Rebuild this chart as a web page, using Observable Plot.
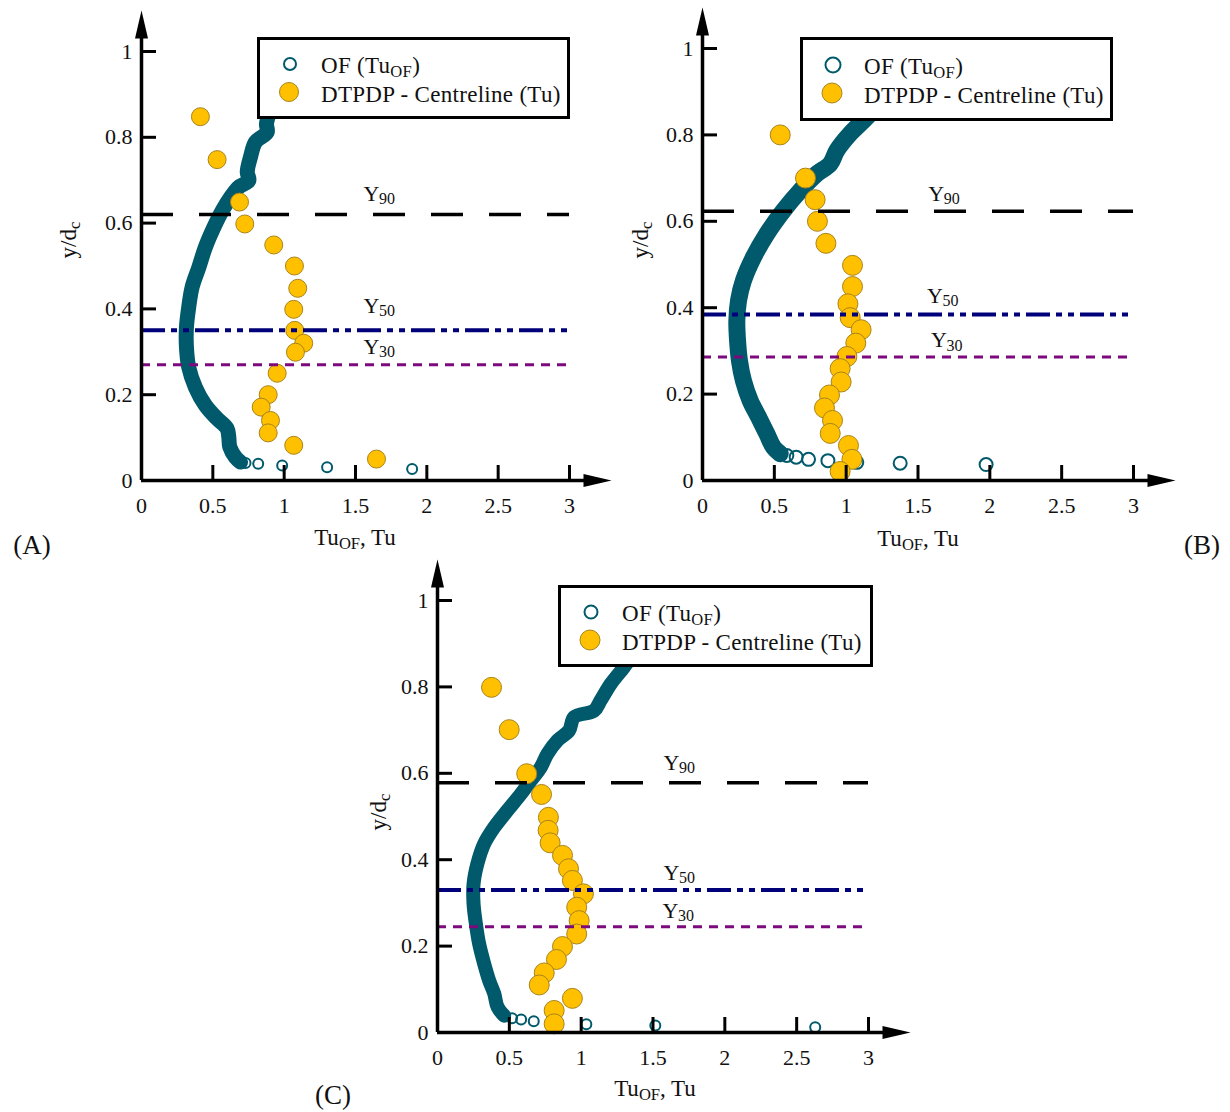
<!DOCTYPE html>
<html><head><meta charset="utf-8">
<script src="https://cdn.jsdelivr.net/npm/d3@7"></script>
<script src="https://cdn.jsdelivr.net/npm/@observablehq/plot@0.6"></script>
<style>
body{margin:0;background:#fff;}
#fig{position:relative;width:1230px;height:1112px;overflow:hidden;font-family:"Liberation Serif","Times New Roman",serif;color:#111;background:#fff;}
#fig svg{position:absolute;background:transparent;max-width:none;}
.legend{position:absolute;border:3px solid #000;background:#fff;box-sizing:border-box;font-size:23px;}
.lsym{position:absolute;}
.ltxt{position:absolute;white-space:nowrap;transform:translateY(-50%);line-height:1;letter-spacing:0.3px;}
.lab{position:absolute;white-space:nowrap;font-size:23px;line-height:1;transform:translate(-50%,-50%);}
.rot{transform:translate(-50%,-50%) rotate(-90deg);}
.letter{position:absolute;font-size:27px;line-height:1;transform:translate(-50%,-50%);}
sub{font-size:0.72em;vertical-align:-0.28em;line-height:0;}
</style></head><body><div id="fig"></div>
<script>
// ---------- axis ticks ----------
const xTicks = [0, 0.5, 1, 1.5, 2, 2.5, 3];
const yTicks = [0, 0.2, 0.4, 0.6, 0.8, 1];

// ---------- reference levels (Y90, Y50, Y30) ----------
const levelNames = ["90", "50", "30"];
const levelsA = [0.62, 0.35, 0.27];
const levelsB = [0.623, 0.384, 0.286];
const levelsC = [0.578, 0.330, 0.245];

// ---------- OF (Tu_OF) : dense band (bottom -> top) and isolated near-bed points ----------
const ofBandA = [[0.694,0.043],[0.659,0.054],[0.619,0.078],[0.612,0.101],[0.600,0.121],[0.530,0.144],[0.448,0.175],[0.378,0.217],[0.331,0.264],[0.315,0.311],[0.315,0.357],[0.331,0.404],[0.355,0.451],[0.402,0.497],[0.448,0.544],[0.507,0.590],[0.566,0.629],[0.624,0.660],[0.682,0.684],[0.752,0.699],[0.741,0.719],[0.764,0.754],[0.799,0.789],[0.881,0.812],[0.876,0.831],[0.90,0.86]];
const ofTailA = [[0.729,0.041],[0.818,0.039],[0.986,0.035],[1.301,0.031],[1.897,0.027]];

const ofBandB = [[0.541,0.062],[0.494,0.077],[0.448,0.108],[0.390,0.147],[0.332,0.185],[0.285,0.231],[0.257,0.278],[0.244,0.324],[0.239,0.370],[0.251,0.417],[0.285,0.463],[0.355,0.517],[0.448,0.571],[0.564,0.625],[0.680,0.671],[0.796,0.710],[0.889,0.733],[0.935,0.764],[1.028,0.803],[1.120,0.833],[1.17,0.85]];
const ofTailB = [[0.587,0.058],[0.652,0.054],[0.738,0.049],[0.873,0.046],[1.074,0.042],[1.376,0.040],[1.974,0.037]];

const ofBandC = [[0.464,0.039],[0.418,0.059],[0.395,0.090],[0.360,0.120],[0.325,0.159],[0.290,0.205],[0.267,0.252],[0.251,0.298],[0.251,0.344],[0.278,0.391],[0.325,0.437],[0.395,0.475],[0.487,0.514],[0.580,0.552],[0.649,0.583],[0.719,0.614],[0.765,0.645],[0.835,0.676],[0.916,0.699],[0.951,0.730],[1.090,0.745],[1.136,0.769],[1.206,0.807],[1.299,0.846],[1.35,0.87]];
const ofTailC = [[0.519,0.033],[0.582,0.030],[0.670,0.026],[1.036,0.019],[1.516,0.016],[2.629,0.012]];

// ---------- DTPDP - Centreline (Tu) ----------
const dtpdpA = [[0.413,0.848],[0.530,0.748],[0.687,0.649],[0.724,0.598],[0.927,0.549],[1.072,0.500],[1.095,0.448],[1.067,0.399],[1.074,0.350],[1.137,0.320],[1.079,0.299],[0.951,0.250],[0.888,0.200],[0.839,0.171],[0.904,0.140],[0.888,0.111],[1.067,0.082],[1.647,0.050]];
const dtpdpB = [[0.541,0.800],[0.717,0.700],[0.784,0.650],[0.800,0.600],[0.859,0.549],[1.044,0.498],[1.044,0.449],[1.012,0.409],[1.028,0.377],[1.104,0.349],[1.067,0.318],[1.005,0.287],[0.958,0.259],[0.965,0.228],[0.884,0.198],[0.849,0.168],[0.905,0.139],[0.889,0.109],[1.016,0.081],[1.040,0.049],[0.958,0.021]];
const dtpdpC = [[0.376,0.799],[0.499,0.701],[0.621,0.599],[0.724,0.551],[0.772,0.498],[0.770,0.468],[0.784,0.439],[0.870,0.410],[0.912,0.379],[0.939,0.352],[1.016,0.321],[0.969,0.290],[0.986,0.259],[0.969,0.228],[0.870,0.199],[0.828,0.169],[0.743,0.138],[0.708,0.110],[0.939,0.079],[0.812,0.051],[0.812,0.020]];

// ---------- styles ----------
const TEAL = "#005a6c", GOLD = "#ffc000", GOLD_EDGE = "#a8841c";
const lineStyles = [
  {stroke: "#000000", strokeWidth: 3.5, strokeDasharray: "32,26"},
  {stroke: "#00007a", strokeWidth: 4, strokeDasharray: "24,6,6,6,6,6"},
  {stroke: "#7d0a7d", strokeWidth: 3, strokeDasharray: "9,7"}
];
const arrowSymbol = {draw(ctx) { ctx.moveTo(0, -14); ctx.lineTo(6.5, 14); ctx.lineTo(-6.5, 14); ctx.closePath(); }};

const panels = [
  {band: ofBandA, tail: ofTailA, dots: dtpdpA, levels: levelsA,
   frame: {x: 141, y: 51, w: 428, h: 429}, bandWidth: 15, tailR: 5, dotR: 9,
   labelPos: [[1.556, -20.5], [1.556, -24.5], [1.556, -17.5]]},
  {band: ofBandB, tail: ofTailB, dots: dtpdpB, levels: levelsB,
   frame: {x: 702, y: 48, w: 431, h: 432}, bandWidth: 17, tailR: 6.5, dotR: 10,
   labelPos: [[1.571, -17.5], [1.562, -19], [1.59, -16.5]]},
  {band: ofBandC, tail: ofTailC, dots: dtpdpC, levels: levelsC,
   frame: {x: 437, y: 600, w: 431, h: 432}, bandWidth: 14, tailR: 5, dotR: 10,
   labelPos: [[1.573, -20], [1.573, -17], [1.566, -16]]}
];

const fig = document.getElementById("fig");
const X = d => d[0], Y = d => d[1];

for (const p of panels) {
  const mL = 100, mT = 50, mR = 60, mB = 70;
  const {frame} = p;
  const marks = [
    Plot.line(p.band, {x: X, y: Y, stroke: TEAL, strokeWidth: p.bandWidth, strokeLinecap: "round", strokeLinejoin: "round", curve: "catmull-rom"}),
    Plot.dot(p.band, {x: X, y: Y, r: p.tailR, stroke: TEAL, strokeWidth: 2, fill: "none"}),
    Plot.dot(p.tail, {x: X, y: Y, r: p.tailR, stroke: TEAL, strokeWidth: 2, fill: "none"}),
    Plot.dot(p.dots, {x: X, y: Y, r: p.dotR, fill: GOLD, stroke: GOLD_EDGE, strokeWidth: 1})
  ];
  p.levels.forEach((v, i) => {
    marks.push(Plot.ruleY([v], {y: d => d, ...lineStyles[i]}));
    marks.push(Plot.text([v], {x: () => p.labelPos[i][0], y: d => d, text: () => "Y", textAnchor: "start", dy: p.labelPos[i][1], fontSize: 22}));
    marks.push(Plot.text([v], {x: () => p.labelPos[i][0], y: d => d, text: () => levelNames[i], textAnchor: "start", dx: 15.5, dy: p.labelPos[i][1] + 5, fontSize: 16}));
  });
  // axes: lines with arrow heads, inward ticks, labels
  marks.push(
    Plot.ruleX([0], {x: d => d, stroke: "#000", strokeWidth: 3.5, insetTop: -30}),
    Plot.ruleY([0], {y: d => d, stroke: "#000", strokeWidth: 3.5, insetRight: -30}),
    Plot.dot([0], {frameAnchor: "top-left", dy: -27, symbol: arrowSymbol, r: 1, fill: "#000", stroke: "none"}),
    Plot.dot([0], {frameAnchor: "bottom-right", dx: 28, symbol: arrowSymbol, r: 1, fill: "#000", stroke: "none", rotate: 90}),
    Plot.ruleX(xTicks.slice(1), {x: d => d, stroke: "#000", strokeWidth: 3, insetTop: frame.h - 15}),
    Plot.ruleY(yTicks.slice(1), {y: d => d, stroke: "#000", strokeWidth: 3, insetRight: frame.w - 15}),
    Plot.axisX(xTicks, {tickSize: 0, tickPadding: 17, label: null, tickFormat: d => String(d), fontSize: 22}),
    Plot.axisY(yTicks, {tickSize: 0, tickPadding: 9, label: null, tickFormat: d => String(d), fontSize: 22})
  );
  const svg = Plot.plot({
    width: mL + frame.w + mR, height: mT + frame.h + mB,
    marginLeft: mL, marginRight: mR, marginTop: mT, marginBottom: mB,
    x: {domain: [0, 3]}, y: {domain: [0, 1]},
    style: {fontFamily: "Liberation Serif", fontSize: "22px", color: "#111", background: "transparent", overflow: "visible"},
    marks
  });
  svg.style.left = (frame.x - mL) + "px";
  svg.style.top = (frame.y - mT) + "px";
  fig.appendChild(svg);
}

// ---------- HTML overlays: legends, axis titles, panel letters ----------
const legends = [
  {left: 257, top: 37, w: 313, h: 82, r1: 6, r2: 9.5},
  {left: 800, top: 37, w: 313, h: 84, r1: 7.5, r2: 10},
  {left: 558, top: 585, w: 315, h: 82, r1: 6.5, r2: 10}
];
for (const L of legends) {
  const box = document.createElement("div");
  box.className = "legend";
  Object.assign(box.style, {left: L.left + "px", top: L.top + "px", width: L.w + "px", height: L.h + "px"});
  const row1 = L.h * 0.33, row2 = L.h * 0.66;
  box.innerHTML = `
    <svg class="lsym" style="left:20px;top:${row1 - 15}px" width="26" height="26"><circle cx="10" cy="12" r="${L.r1}" fill="none" stroke="${TEAL}" stroke-width="2"/></svg>
    <div class="ltxt" style="left:61px;top:${row1 - 2}px">OF (Tu<sub>OF</sub>)</div>
    <svg class="lsym" style="left:16px;top:${row2 - 14}px" width="26" height="26"><circle cx="13" cy="12" r="${L.r2}" fill="${GOLD}" stroke="${GOLD_EDGE}" stroke-width="1"/></svg>
    <div class="ltxt" style="left:61px;top:${row2}px">DTPDP - Centreline (Tu)</div>`;
  fig.appendChild(box);
}
const titles = [
  {cls: "lab", x: 355, y: 537, html: "Tu<sub>OF</sub>, Tu"},
  {cls: "lab rot", x: 68, y: 240, html: "y/d<sub>c</sub>"},
  {cls: "lab", x: 918, y: 538, html: "Tu<sub>OF</sub>, Tu"},
  {cls: "lab rot", x: 640, y: 240, html: "y/d<sub>c</sub>"},
  {cls: "lab", x: 655, y: 1088, html: "Tu<sub>OF</sub>, Tu"},
  {cls: "lab rot", x: 378, y: 812, html: "y/d<sub>c</sub>"},
  {cls: "letter", x: 32, y: 545, html: "(A)"},
  {cls: "letter", x: 1202, y: 545, html: "(B)"},
  {cls: "letter", x: 333, y: 1095, html: "(C)"}
];
for (const t of titles) {
  const el = document.createElement("div");
  el.className = t.cls;
  el.style.left = t.x + "px"; el.style.top = t.y + "px";
  el.innerHTML = t.html;
  fig.appendChild(el);
}
</script></body></html>
